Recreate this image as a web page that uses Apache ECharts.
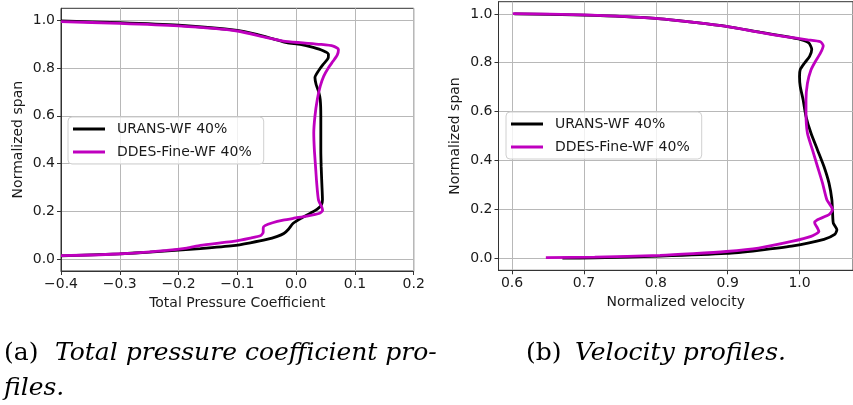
<!DOCTYPE html>
<html>
<head>
<meta charset="utf-8">
<script src="https://cdn.jsdelivr.net/npm/echarts@6/dist/echarts.min.js"></script>
<style>html,body{margin:0;padding:0;background:#fff;}#c{width:853px;height:405px;}</style>
</head>
<body>
<div id="c"></div>
<script>
// ---- data ----
const seriesNames = ['URANS-WF 40%', 'DDES-Fine-WF 40%'];
const spanTicks = [0.0, 0.2, 0.4, 0.6, 0.8, 1.0];
const velTicks = [0.6, 0.7, 0.8, 0.9, 1.0];

// (a) total pressure coefficient: [Cpt, span]
const cptUrans = [[-0.4,0.997],[-0.3,0.990],[-0.2,0.979],[-0.1,0.958],[-0.067,0.941],[-0.039,0.922],[-0.016,0.906],[0.007,0.899],[0.029,0.886],[0.046,0.872],[0.055,0.857],[0.054,0.839],[0.046,0.815],[0.038,0.788],[0.032,0.760],[0.034,0.731],[0.038,0.703],[0.041,0.668],[0.042,0.598],[0.042,0.528],[0.042,0.458],[0.0426,0.388],[0.0437,0.318],[0.0448,0.248],[0.043,0.227],[0.036,0.209],[0.025,0.193],[0.010,0.173],[-0.005,0.150],[-0.013,0.125],[-0.021,0.107],[-0.032,0.095],[-0.050,0.082],[-0.078,0.068],[-0.107,0.056],[-0.163,0.044],[-0.2,0.038],[-0.249,0.029],[-0.3,0.022],[-0.4,0.013]];
const cptDdes = [[-0.4,0.994],[-0.3,0.987],[-0.2,0.976],[-0.1,0.955],[-0.05,0.927],[-0.022,0.913],[0.007,0.906],[0.041,0.899],[0.063,0.892],[0.072,0.878],[0.070,0.855],[0.063,0.829],[0.055,0.801],[0.047,0.766],[0.041,0.724],[0.036,0.668],[0.032,0.598],[0.030,0.528],[0.031,0.458],[0.033,0.388],[0.035,0.318],[0.038,0.248],[0.044,0.215],[0.045,0.203],[0.040,0.192],[0.018,0.180],[-0.004,0.171],[-0.022,0.163],[-0.040,0.152],[-0.053,0.140],[-0.056,0.130],[-0.056,0.112],[-0.060,0.099],[-0.078,0.088],[-0.107,0.074],[-0.135,0.066],[-0.163,0.057],[-0.186,0.046],[-0.220,0.036],[-0.277,0.025],[-0.334,0.018],[-0.4,0.014]];

// (b) normalized velocity: [velocity, span]
const velUrans = [[0.603,1.0],[0.7,0.995],[0.8,0.982],[0.854,0.965],[0.9,0.948],[0.945,0.925],[0.980,0.908],[1.002,0.895],[1.013,0.881],[1.017,0.855],[1.014,0.826],[1.007,0.799],[1.001,0.772],[1.0,0.744],[1.001,0.703],[1.005,0.648],[1.009,0.580],[1.016,0.511],[1.025,0.443],[1.034,0.375],[1.041,0.307],[1.045,0.239],[1.046,0.184],[1.047,0.143],[1.052,0.116],[1.049,0.097],[1.034,0.077],[0.989,0.049],[0.943,0.032],[0.898,0.019],[0.806,0.008],[0.715,0.001],[0.670,0.0]];
const velDdes = [[0.601,1.001],[0.7,0.996],[0.8,0.982],[0.854,0.965],[0.9,0.948],[0.945,0.924],[0.980,0.907],[1.011,0.894],[1.029,0.886],[1.033,0.870],[1.029,0.839],[1.022,0.805],[1.016,0.771],[1.011,0.716],[1.009,0.648],[1.009,0.593],[1.011,0.511],[1.018,0.443],[1.025,0.375],[1.032,0.307],[1.038,0.239],[1.046,0.199],[1.041,0.178],[1.025,0.157],[1.021,0.145],[1.025,0.123],[1.027,0.109],[1.016,0.089],[0.989,0.068],[0.943,0.041],[0.898,0.027],[0.852,0.018],[0.806,0.011],[0.715,0.004],[0.647,0.002]];

// ---- styles ----
const FONT = 'DejaVu Sans';
const TXT = '#1a1a1a';
const FRAME = '#333';
const GRIDC = '#b8b8b8';
const colors = ['#000000', '#bf00bf'];
const LW = 2.8;
const fmt = v => { if (Math.abs(v) < 1e-9) return '0.0'; return (v < 0 ? '\u2212' : '') + Math.abs(v).toFixed(1); };

function axisCommon(extra) {
  return Object.assign({
    type: 'value',
    axisLine: { show: true, onZero: false, lineStyle: { color: FRAME, width: 1 } },
    axisTick: { show: true, length: 4, lineStyle: { color: FRAME, width: 1 } },
    axisLabel: { color: TXT, fontFamily: FONT, fontSize: 14, margin: 6, formatter: fmt },
    splitLine: { show: true, lineStyle: { color: GRIDC, width: 1 } },
    nameTextStyle: { color: TXT, fontFamily: FONT, fontSize: 14 },
    nameLocation: 'middle'
  }, extra);
}

function legendAt(left, top) {
  return {
    left: left, top: top, orient: 'vertical',
    data: seriesNames.map((n, i) => ({ name: n, icon: 'path://M0,0H32V3H0Z', itemStyle: { color: colors[i], borderWidth: 0 } })),
    symbolKeepAspect: true,
    itemWidth: 32, itemHeight: 14, itemGap: 9,
    padding: [5, 12, 5, 5],
    backgroundColor: 'rgba(255,255,255,0.8)',
    borderColor: '#d0d0d0', borderWidth: 1, borderRadius: 4,
    textStyle: { color: TXT, fontFamily: FONT, fontSize: 14, padding: [0, 0, 0, 7] },
    selectedMode: false
  };
}

function mkSeries(name, data, idx, color) {
  return {
    name: name, type: 'line', xAxisIndex: idx, yAxisIndex: idx,
    data: data, symbol: 'none', showSymbol: false, smooth: 0.2,
    lineStyle: { color: color, width: LW }, itemStyle: { color: color },
    clip: true, animation: false
  };
}

const capFont = '25px "DejaVu Serif"';
const capFontI = 'italic 25px "DejaVu Serif"';

const chart = echarts.init(document.getElementById('c'), null, { renderer: 'canvas' });
chart.setOption({
  animation: false,
  backgroundColor: '#fff',
  grid: [
    { left: 61, top: 8.3, width: 352.7, height: 262.7, show: true, borderColor: FRAME, borderWidth: 1, containLabel: false },
    { left: 498.5, top: 1.7, width: 361, height: 268.6, show: true, borderColor: FRAME, borderWidth: 1, containLabel: false }
  ],
  xAxis: [
    axisCommon({ gridIndex: 0, min: -0.4, max: 0.2, interval: 0.1, name: 'Total Pressure Coefficient', nameGap: 22 }),
    axisCommon({ gridIndex: 1, min: 0.5811, max: 1.0744, name: 'Normalized velocity', nameGap: 22,
      axisTick: { show: true, length: 4, customValues: velTicks, lineStyle: { color: FRAME, width: 1 } },
      axisLabel: { color: TXT, fontFamily: FONT, fontSize: 14, margin: 6, formatter: fmt, customValues: velTicks } })
  ],
  yAxis: [
    axisCommon({ gridIndex: 0, min: -0.05, max: 1.05, name: 'Normalized span', nameGap: 36,
      axisTick: { show: true, length: 4, customValues: spanTicks, lineStyle: { color: FRAME, width: 1 } },
      axisLabel: { color: TXT, fontFamily: FONT, fontSize: 14, margin: 6, formatter: fmt, customValues: spanTicks } }),
    axisCommon({ gridIndex: 1, min: -0.05, max: 1.05, name: 'Normalized span', nameGap: 36,
      axisTick: { show: true, length: 4, customValues: spanTicks, lineStyle: { color: FRAME, width: 1 } },
      axisLabel: { color: TXT, fontFamily: FONT, fontSize: 14, margin: 6, formatter: fmt, customValues: spanTicks } })
  ],
  legend: [legendAt(68, 117), legendAt(506, 112)],
  series: [
    mkSeries(seriesNames[0], cptUrans, 0, colors[0]),
    mkSeries(seriesNames[1], cptDdes, 0, colors[1]),
    mkSeries(seriesNames[0], velUrans, 1, colors[0]),
    mkSeries(seriesNames[1], velDdes, 1, colors[1])
  ],
  graphic: [
    { type: 'text', left: 4, top: 341, style: { text: '(a)', font: capFont, fill: '#000' } },
    { type: 'text', left: 55, top: 341, style: { text: 'Total pressure coefficient pro-', font: capFontI, fill: '#000' } },
    { type: 'text', left: 4, top: 376, style: { text: 'files.', font: capFontI, fill: '#000' } },
    { type: 'text', left: 526, top: 341, style: { text: '(b)', font: capFont, fill: '#000' } },
    { type: 'text', left: 575, top: 341, style: { text: 'Velocity profiles.', font: capFontI, fill: '#000' } }
  ]
});
</script>
</body>
</html>
